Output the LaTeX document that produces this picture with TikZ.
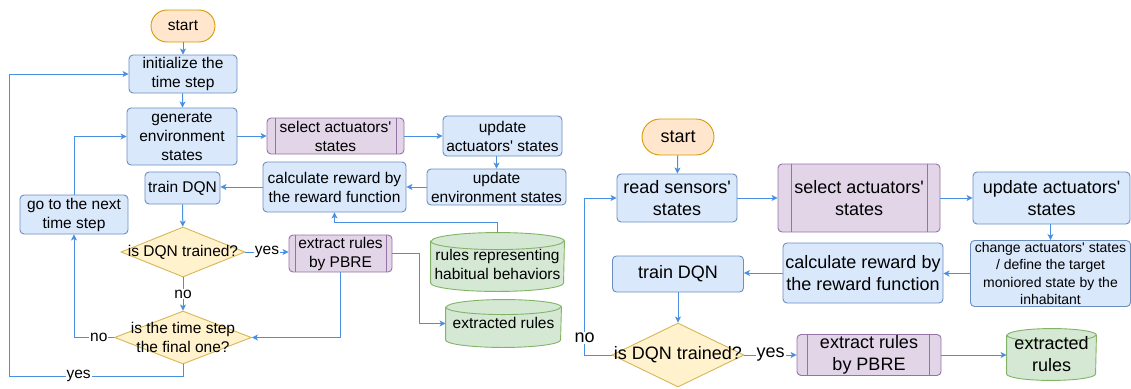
\documentclass[tikz,border=0pt]{standalone}
\usepackage{fontspec}
\setmainfont{Liberation Sans}[Ligatures=TeXOff]
\usetikzlibrary{shapes.geometric,arrows.meta,calc}
\pgfdeclarelayer{bg}
\pgfsetlayers{bg,main}
\definecolor{bfill}{HTML}{DAE8FC}
\definecolor{bdraw}{HTML}{6C8EBF}
\definecolor{pfill}{HTML}{E1D5E7}
\definecolor{pdraw}{HTML}{9673A6}
\definecolor{gfill}{HTML}{D5E8D4}
\definecolor{gdraw}{HTML}{82B366}
\definecolor{yfill}{HTML}{FFF2CC}
\definecolor{ydraw}{HTML}{D6B656}
\definecolor{ofill}{HTML}{FFE6CC}
\definecolor{odraw}{HTML}{D79B00}
\definecolor{arr}{HTML}{4A90E2}
\tikzset{
 base/.style={inner sep=0pt, align=center, line width=0.9pt},
 lfont/.style={font=\fontsize{15.5}{19}\selectfont},
 rfont/.style={font=\fontsize{18}{22}\selectfont},
 sfont/.style={font=\fontsize{14}{17.5}\selectfont},
 sz/.style 2 args={minimum width=#1pt, minimum height=#2pt},
 bluebox/.style={base, rectangle, rounded corners=4pt, draw=bdraw, fill=bfill},
 procbox/.style={base, rectangle, rounded corners=4pt, draw=pdraw, fill=pfill},
 termbox/.style={base, rectangle, rounded corners=#1pt, draw=odraw, fill=ofill},
 decbox/.style={base, diamond, draw=ydraw, fill=yfill},
 cylbox/.style={base, rectangle},
 procline/.style={draw=pdraw, line width=0.9pt},
 conn/.style={draw=arr, line width=1pt, -{Stealth[length=6pt,width=6pt,inset=1.5pt]}},
 elab/.style={fill=white, inner sep=1pt},
}
\newcommand\cylshape[3]{%
 \path[fill=gfill, draw=gdraw, line width=0.9pt]
   ($(#1.north west)+(0,#3)$) -- ($(#1.south west)+(0,-#3)$)
   arc[start angle=180, end angle=360, x radius=#2pt, y radius=#3pt]
   -- ($(#1.north east)+(0,#3)$)
   arc[start angle=0, end angle=180, x radius=#2pt, y radius=#3pt] -- cycle;
 \draw[gdraw, line width=0.9pt] ($(#1.north west)+(0,#3)$)
   arc[start angle=180, end angle=360, x radius=#2pt, y radius=#3pt];
}
\begin{document}
\begin{tikzpicture}[x=1pt,y=-1pt]
\useasboundingbox (0,0) rectangle (1131,388);
% ---------- left flowchart ----------
\node[termbox=16, sz={64}{32}, lfont] (s1) at (183,26) {start};
\node[bluebox, sz={108}{38}, lfont] (init) at (183,74) {initialize the\\time step};
\node[bluebox, sz={110}{57}, lfont] (gen) at (182,136.5) {generate\\environment\\states};
\node[procbox, sz={137}{36}, lfont] (sel1) at (335.5,136) {select actuators'\\states};
\node[bluebox, sz={119}{40}, lfont] (upa1) at (502.5,136) {update\\actuators' states};
\node[bluebox, sz={139}{36}, lfont] (upe1) at (496.5,187) {update\\environment states};
\node[bluebox, sz={143}{50}, lfont] (calc1) at (334.5,187) {calculate reward by\\the reward function};
\node[bluebox, sz={75}{32}, lfont] (tr1) at (182.5,188) {train DQN};
\node[bluebox, sz={108}{39}, lfont] (go) at (74,214.5) {go to the next\\time step};
\node[decbox, sz={124}{50}, label={[lfont,align=center]center:is DQN trained?}] (d1) at (183,252) {};
\node[procbox, sz={103}{37}, lfont] (ex1) at (340.5,253.5) {extract rules\\by PBRE};
\node[cylbox, sz={133}{58}, lfont] (rr) at (497.5,262) {\\[-2pt]rules representing\\habitual behaviors};
\node[cylbox, sz={115}{47}, lfont] (er1) at (503.5,323.5) {\\[-8pt]extracted rules};
\node[decbox, sz={137}{53}, label={[lfont,align=center]center:is the time step\\the final one?}] (d2) at (183,337.5) {};
\draw[procline] ($(sel1.north west)+(9,0)$) -- ($(sel1.south west)+(9,0)$);
\draw[procline] ($(sel1.north east)+(-8,0)$) -- ($(sel1.south east)+(-8,0)$);
\draw[procline] ($(ex1.north west)+(7,0)$) -- ($(ex1.south west)+(7,0)$);
\draw[procline] ($(ex1.north east)+(-6,0)$) -- ($(ex1.south east)+(-6,0)$);
\coordinate (yb) at (9,376);
% ---------- right flowchart ----------
\node[termbox=18, sz={72}{36}, rfont] (s2) at (678,137) {start};
\node[bluebox, sz={120}{48}, rfont] (rs) at (677,198) {read sensors'\\states};
\node[procbox, sz={162}{68}, rfont] (sel2) at (859,198) {select actuators'\\states};
\node[bluebox, sz={157}{52}, rfont] (upa2) at (1051.5,198) {update actuators'\\states};
\node[bluebox, sz={160}{66}, sfont] (ch) at (1050.5,273.5) {change actuators' states\\/ define the target\\moniored state by the\\inhabitant};
\node[bluebox, sz={160}{60}, rfont] (calc2) at (863,273) {calculate reward by\\the reward function};
\node[bluebox, sz={131}{36}, rfont] (tr2) at (678,274) {train DQN};
\node[decbox, sz={132}{64}, label={[rfont,align=center]center:is DQN trained?}] (d3) at (678,355) {};
\node[procbox, sz={144}{41}, rfont] (ex2) at (869,355) {extract rules\\by PBRE};
\node[cylbox, sz={89}{51}, rfont] (er2) at (1051.5,354.5) {extracted\\rules};
\draw[procline] ($(sel2.north west)+(14,0)$) -- ($(sel2.south west)+(14,0)$);
\draw[procline] ($(sel2.north east)+(-13,0)$) -- ($(sel2.south east)+(-13,0)$);
\draw[procline] ($(ex2.north west)+(11,0)$) -- ($(ex2.south west)+(11,0)$);
\draw[procline] ($(ex2.north east)+(-12,0)$) -- ($(ex2.south east)+(-12,0)$);
% ---------- cylinders ----------
\begin{pgfonlayer}{bg}
\cylshape{rr}{66.5}{8.5}
\cylshape{er1}{57.5}{7.5}
\cylshape{er2}{44.5}{6.5}
\end{pgfonlayer}
% ---------- left connectors ----------
\draw[conn] (s1) -- (init);
\draw[conn] (init) -- (gen);
\draw[conn] (gen.east |- sel1) -- (sel1.west);
\draw[conn] (sel1) -- (upa1);
\draw[conn] (upe1.north |- upa1.south) -- (upe1.north);
\draw[conn] (upe1) -- (calc1);
\draw[conn] (calc1.west) -- (tr1.east |- calc1.west);
\draw[conn] (tr1) -- (d1);
\draw[conn] (d1.east) -- node[elab,lfont]{yes} (d1.east -| ex1.west);
\draw[conn] (d1) -- node[elab,lfont]{no} (d2);
\draw[conn] (d2.west) -| node[pos=0.19,elab,lfont]{no} (go.south);
\draw[conn] (go.north) |- (gen.west);
\draw[conn] (d2.south) |- node[pos=0.8,elab,lfont]{yes} (yb) |- (init.west);
\draw[conn] (ex1.south) |- (d2.east);
\draw[conn] (ex1.east) -- ++(27,0) |- (er1.west);
\draw[conn] (rr.north) -- ++(0,-10) -| (calc1.south);
% ---------- right connectors ----------
\draw[conn] (s2) -- (rs);
\draw[conn] (rs) -- (sel2);
\draw[conn] (sel2) -- (upa2);
\draw[conn] (ch.north |- upa2.south) -- (ch.north);
\draw[conn] (ch.west) -- (ch.west -| calc2.east);
\draw[conn] (calc2.west) -- (calc2.west -| tr2.east);
\draw[conn] (tr2) -- (d3);
\draw[conn] (d3.east) -- node[elab,rfont]{yes} (d3.east -| ex2.west);
\draw[conn] (ex2.east) -- (ex2.east -| er2.west);
\draw[conn] (d3.west) -- ++(-27,0) |- node[pos=0.055,elab,rfont]{no} (rs.west);
\end{tikzpicture}
\end{document}
